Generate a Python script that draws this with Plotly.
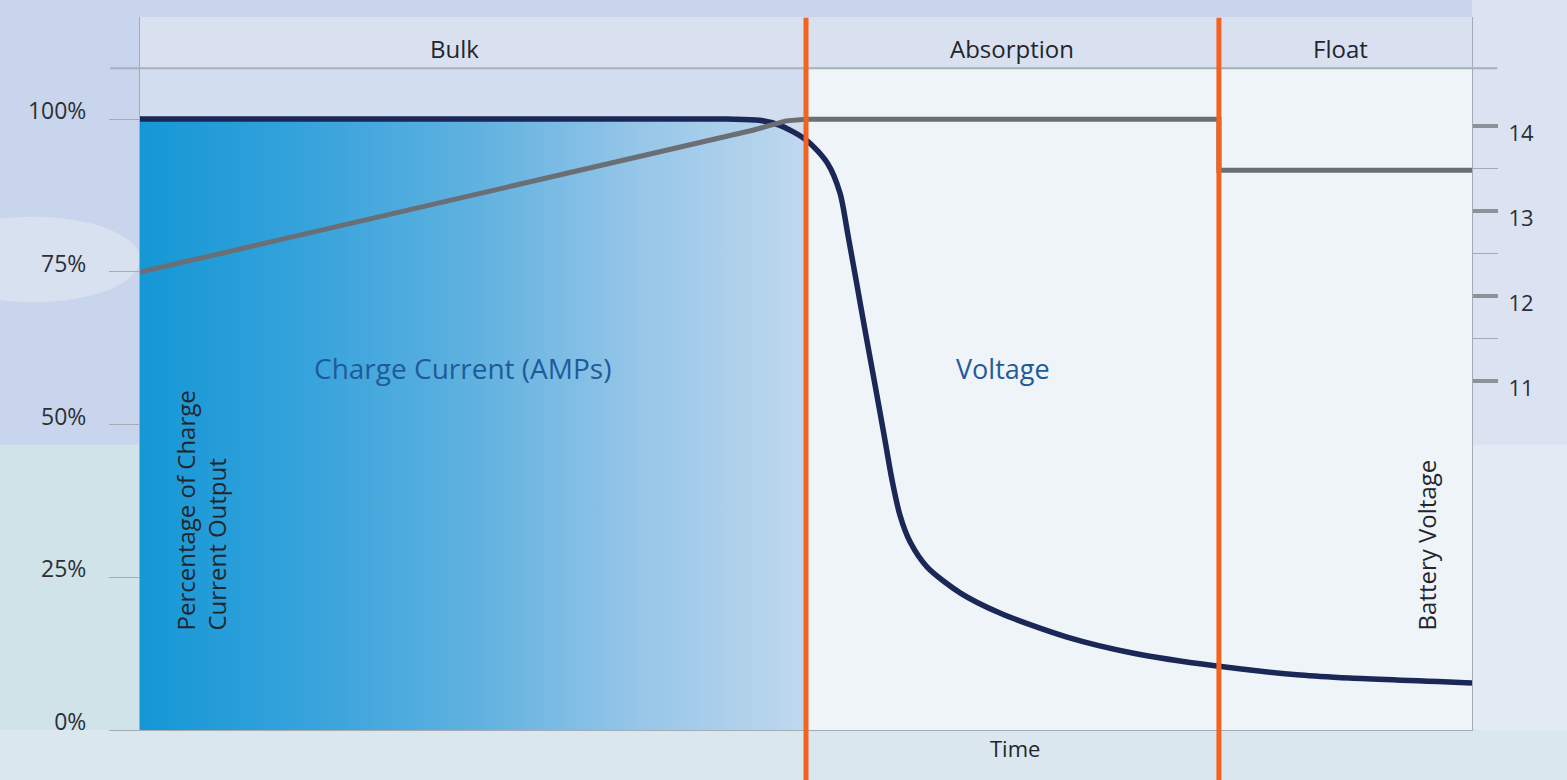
import plotly.graph_objects as go

# ---------------- data ----------------
time = [0, 44, 46.5, 48, 50, 51.6, 52.55, 53.15, 53.83, 54.5, 55.18, 55.86,
        56.46, 57.06, 57.81, 59.08, 61.6, 64.6, 69.6, 74.5, 80.7, 87.1, 90.8, 100]
current_pct = [100, 100, 99.8, 99.0, 96.6, 92.8, 87.9, 81.0, 72.8, 64.6, 56.5,
               48.3, 40.9, 35.1, 30.8, 26.7, 22.4, 19.1, 15.2, 12.6, 10.5, 9.0, 8.5, 7.7]

volt_time = [0, 46, 48.5, 50, 81, 81, 100]
voltage = [12.28, 13.95, 14.06, 14.08, 14.08, 13.48, 13.48]

stage_bounds = [50, 81]
stage_names = ["Bulk", "Absorption", "Float"]
stage_label_x = [23.6, 65.5, 90.1]

pct_ticks = [0, 25, 50, 75, 100]
pct_labels = ["0%", "25%", "50%", "75%", "100%"]
volt_ticks = [11, 12, 13, 14]
volt_minor = [11.5, 12.5, 13.5]

FONT = "Open Sans, Noto Sans, sans-serif"
DARK = "#22262c"
BLUE_TXT = "#1f5b98"
NAVY = "#1b2756"
GREY_LINE = "#6a6f75"
ORANGE = "#f4621f"
AXIS_GREY = "#a3abb5"

fig = go.Figure()

# bulk-region fill under the current curve (horizontal gradient)
bulk_t = [t for t in time if t <= stage_bounds[0]]
bulk_c = current_pct[:len(bulk_t)]
fig.add_trace(go.Scatter(
    x=bulk_t, y=bulk_c, mode="lines", line=dict(width=0, shape="spline"),
    fill="tozeroy",
    fillgradient=dict(type="horizontal",
                      colorscale=[[0, "#1597d6"], [0.25, "#36a3dc"],
                                  [0.5, "#5fb1e0"], [0.75, "#96c6e8"],
                                  [1, "#c0d8ee"]]),
    hoverinfo="skip", showlegend=False))

# voltage line (right axis)
fig.add_trace(go.Scatter(
    x=volt_time, y=voltage, yaxis="y2", mode="lines",
    line=dict(color=GREY_LINE, width=5), showlegend=False, hoverinfo="skip"))

# charge current line
fig.add_trace(go.Scatter(
    x=time, y=current_pct, mode="lines",
    line=dict(color=NAVY, width=5.5, shape="spline", smoothing=0.8),
    showlegend=False, hoverinfo="skip"))

shapes = []
# background decoration (photo-like tones)
shapes.append(dict(type="rect", xref="paper", yref="paper", x0=-0.11, x1=0,
                   y0=-0.08, y1=0.40, fillcolor="#cfe3e8", line_width=0, layer="below"))
shapes.append(dict(type="circle", xref="paper", yref="paper", x0=-0.16, x1=0.0,
                   y0=0.60, y1=0.72, fillcolor="#d8e1f0", line_width=0, layer="below"))
shapes.append(dict(type="rect", xref="paper", yref="paper", x0=-0.11, x1=1.08,
                   y0=-0.08, y1=0, fillcolor="#dae7ee", line_width=0, layer="below"))
shapes.append(dict(type="rect", xref="paper", yref="paper", x0=1.0, x1=1.08,
                   y0=0, y1=1.03, fillcolor="#dbe3f2", line_width=0, layer="below"))
shapes.append(dict(type="rect", xref="paper", yref="paper", x0=1.0, x1=1.08,
                   y0=0, y1=0.40, fillcolor="#e2eaf3", line_width=0, layer="below"))
# plot interior
shapes.append(dict(type="rect", xref="x", yref="y", x0=0, x1=100, y0=0, y1=108.3,
                   fillcolor="#eff4f9", line_width=0, layer="below"))
shapes.append(dict(type="rect", xref="x", yref="y", x0=0, x1=stage_bounds[0], y0=96, y1=108.3,
                   fillcolor="#d2ddef", line_width=0, layer="below"))
shapes.append(dict(type="rect", xref="x", yref="paper", x0=0, x1=100, y0=0.9285, y1=1,
                   fillcolor="#d9e1f1", line_width=0, layer="below"))
# header separator line
shapes.append(dict(type="line", xref="paper", yref="y", x0=-0.0225, x1=1.019,
                   y0=108.3, y1=108.3, line=dict(color="#a7afba", width=2), layer="above"))
# stage boundaries
for b in stage_bounds:
    shapes.append(dict(type="line", xref="x", yref="paper", x0=b, x1=b,
                       y0=-0.075, y1=0.999, line=dict(color=ORANGE, width=5), layer="above"))

annotations = []
for name, xc in zip(stage_names, stage_label_x):
    annotations.append(dict(text=name, x=xc, y=0.982, xref="x", yref="paper",
                            showarrow=False, font=dict(family=FONT, size=24, color=DARK)))
annotations.append(dict(text="Charge Current (AMPs)", x=24.2, y=59.2, xref="x", yref="y",
                        showarrow=False, font=dict(family=FONT, size=28, color=BLUE_TXT)))
annotations.append(dict(text="Voltage", x=64.8, y=59.2, xref="x", yref="y",
                        showarrow=False, font=dict(family=FONT, size=27, color=BLUE_TXT)))
annotations.append(dict(text="Percentage of Charge<br>Current Output", x=4.6, y=16.0,
                        xref="x", yref="y", xanchor="center", yanchor="bottom",
                        textangle=-90, align="left", showarrow=False,
                        font=dict(family=FONT, size=24, color=DARK)))
annotations.append(dict(text="Battery Voltage", x=96.6, y=16.0,
                        xref="x", yref="y", xanchor="center", yanchor="bottom",
                        textangle=-90, showarrow=False,
                        font=dict(family=FONT, size=24, color=DARK)))
annotations.append(dict(text="Time", x=65.7, y=-0.049, xref="x", yref="paper",
                        showarrow=False, font=dict(family=FONT, size=22, color=DARK)))

fig.update_layout(
    width=1567, height=780,
    margin=dict(l=140, r=95, t=17, b=50),
    paper_bgcolor="#c9d5ec",
    plot_bgcolor="rgba(0,0,0,0)",
    showlegend=False,
    shapes=shapes,
    annotations=annotations,
    font=dict(family=FONT, color=DARK),
    xaxis=dict(range=[0, 100], showgrid=False, zeroline=False, showticklabels=False,
               ticks="", showline=True, linecolor=AXIS_GREY, linewidth=1, fixedrange=True),
    yaxis=dict(range=[0, 116.7], showgrid=False, zeroline=False,
               tickmode="array", tickvals=pct_ticks, ticktext=pct_labels,
               ticks="outside", ticklen=30, tickwidth=1, tickcolor=AXIS_GREY,
               showline=True, linecolor=AXIS_GREY, linewidth=1,
               ticklabelstandoff=18, ticklabelshift=-8,
               tickfont=dict(family=FONT, size=23, color="#2c3036")),
    yaxis2=dict(range=[6.894, 15.282], overlaying="y", side="right",
                showgrid=False, zeroline=False,
                tickmode="array", tickvals=volt_ticks,
                ticks="outside", ticklen=25, tickwidth=4, tickcolor="#8d9299",
                minor=dict(tickmode="array", tickvals=volt_minor, ticks="outside",
                           ticklen=25, tickwidth=1, tickcolor=AXIS_GREY),
                showline=True, linecolor=AXIS_GREY, linewidth=1,
                ticklabelstandoff=6, ticklabelshift=7,
                tickfont=dict(family=FONT, size=22, color="#2c3036")),
)

fig.write_html("out.html", config={"displayModeBar": False},
               post_script="document.body.style.margin='0';")
